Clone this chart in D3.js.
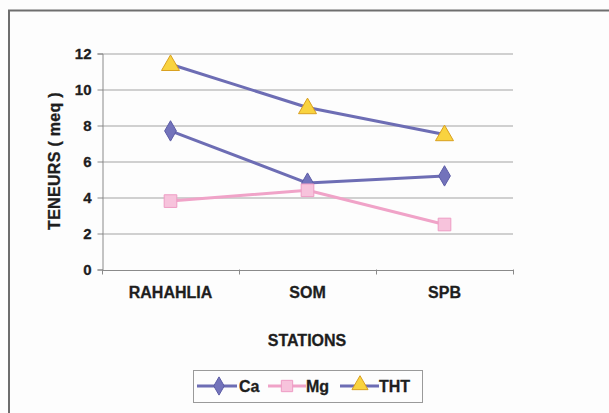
<!DOCTYPE html>
<html><head><meta charset="utf-8">
<script src="https://cdn.jsdelivr.net/npm/d3@7"></script>
<style>body{margin:0;background:#fdfdfd;}svg{display:block;font-family:"Liberation Sans",Arial,sans-serif;font-weight:bold;}</style>
</head><body>
<script>
const categories = ["RAHAHLIA", "SOM", "SPB"];
const ca = [7.7, 4.8, 5.2];
const mg = [3.8, 4.4, 2.5];
const tht = [11.4, 9.0, 7.5];
const yTicks = [0, 2, 4, 6, 8, 10, 12];
const seriesNames = ["Ca", "Mg", "THT"];

const W = 609, H = 413;
const svg = d3.select("body").append("svg").attr("width", W).attr("height", H);
svg.append("rect").attr("x",0).attr("y",0).attr("width",W).attr("height",H).attr("fill","#fdfdfd");
// outer frame
svg.append("rect").attr("x",9).attr("y",10.5).attr("width",620).attr("height",440)
  .attr("fill","none").attr("stroke","#6e6e6e").attr("stroke-width",2);

const x0 = 102, x1 = 513, yTop = 53.5, yBot = 269.5;
const x = d3.scaleBand().domain(categories).range([x0, x1]);
const y = d3.scaleLinear().domain([0, 12]).range([yBot, yTop]);
const txtCol = "#1e1e1e";

// gridlines
svg.append("g").selectAll("line").data(yTicks.filter(d=>d>0)).join("line")
  .attr("x1", x0).attr("x2", x1).attr("y1", d=>y(d)+0.5).attr("y2", d=>y(d)+0.5)
  .attr("stroke", "#a3a3a3").attr("stroke-width", 1);

// y axis
const yAxis = svg.append("g").attr("transform", `translate(${x0+0.5},0)`)
  .call(d3.axisLeft(y).tickValues(yTicks).tickSize(5).tickPadding(6).tickFormat(d3.format("d")));
yAxis.select(".domain").attr("stroke", "#8a8a8a");
yAxis.selectAll(".tick line").attr("stroke", "#8a8a8a");
yAxis.selectAll("text").attr("font-size", 15).attr("font-weight","bold").attr("fill", txtCol)
  .attr("stroke", txtCol).attr("stroke-width", 0.3).attr("font-family","Liberation Sans, Arial, sans-serif");

// x axis
const xAxis = svg.append("g").attr("transform", `translate(0,${yBot+0.5})`)
  .call(d3.axisBottom(x).tickSize(0).tickPadding(17));
xAxis.select(".domain").attr("stroke", "#8a8a8a");
xAxis.selectAll("text").attr("font-size", 16).attr("font-weight","bold").attr("fill", txtCol)
  .attr("stroke", txtCol).attr("stroke-width", 0.3).attr("font-family","Liberation Sans, Arial, sans-serif");
// boundary ticks
const bounds = [x0, ...categories.map(c => x(c) + x.bandwidth())];
svg.append("g").selectAll("line").data(bounds).join("line")
  .attr("x1", d=>d+0.5).attr("x2", d=>d+0.5).attr("y1", yBot).attr("y2", yBot+5)
  .attr("stroke", "#8a8a8a");

// axis titles
svg.append("text").attr("transform", `translate(60,161) rotate(-90)`).attr("text-anchor","middle")
  .attr("font-size", 16).attr("fill",txtCol).attr("stroke", txtCol).attr("stroke-width", 0.3)
  .style("letter-spacing","0.3px").text("TENEURS ( meq )");
svg.append("text").attr("x", 307).attr("y", 346).attr("text-anchor","middle")
  .attr("font-size", 16).attr("fill",txtCol).attr("stroke", txtCol).attr("stroke-width", 0.3).text("STATIONS");

const cx = c => x(c) + x.bandwidth()/2;
const line = d3.line().x((d,i)=>cx(categories[i])).y(d=>y(d));

const styles = {
  Ca: {stroke:"#6d6db4", fill:"#7373bb", mstroke:"#5c5ca6", sym:d3.symbolDiamond, size:120},
  Mg: {stroke:"#f0a3c8", fill:"#f7c3dc", mstroke:"#ee9cc4", sym:d3.symbolSquare, size:160},
  THT:{stroke:"#6d6db4", fill:"#f9d33f", mstroke:"#d9a020", sym:d3.symbolTriangle, size:140}
};
const data = {Ca: ca, Mg: mg, THT: tht};

seriesNames.forEach(name => {
  const s = styles[name];
  svg.append("path").datum(data[name]).attr("d", line).attr("fill","none")
    .attr("stroke", s.stroke).attr("stroke-width", 3).attr("stroke-linejoin","round");
});
seriesNames.forEach(name => {
  const s = styles[name];
  svg.append("g").selectAll("path").data(data[name]).join("path")
    .attr("d", d3.symbol().type(s.sym).size(s.size))
    .attr("transform", (d,i)=>`translate(${cx(categories[i])},${y(d) + (name==="THT"?1:0)})`)
    .attr("fill", s.fill).attr("stroke", s.mstroke).attr("stroke-width", 1);
});

// legend
const lg = svg.append("g");
lg.append("rect").attr("x", 193.5).attr("y", 370.5).attr("width", 229).attr("height", 32)
  .attr("fill","#fdfdfd").attr("stroke","#9a9a9a").attr("stroke-width",1);
const legendItems = [
  {name:"Ca", lx0:197, lx1:237, mx:219, tx:239},
  {name:"Mg", lx0:268, lx1:306, mx:287, tx:306},
  {name:"THT", lx0:340, lx1:379, mx:360, tx:379}
];
legendItems.forEach(it => {
  const s = styles[it.name];
  lg.append("line").attr("x1", it.lx0).attr("x2", it.lx1).attr("y1", 386).attr("y2", 386)
    .attr("stroke", s.stroke).attr("stroke-width", 3);
  lg.append("path").attr("d", d3.symbol().type(s.sym).size(s.size*0.8)())
    .attr("transform", `translate(${it.mx},${386 + (it.name==="THT"?-1:0)})`)
    .attr("fill", s.fill).attr("stroke", s.mstroke);
  lg.append("text").attr("x", it.tx).attr("y", 392).attr("font-size", 16).attr("fill",txtCol)
    .attr("stroke", txtCol).attr("stroke-width", 0.3).text(it.name);
});
</script>
</body></html>
